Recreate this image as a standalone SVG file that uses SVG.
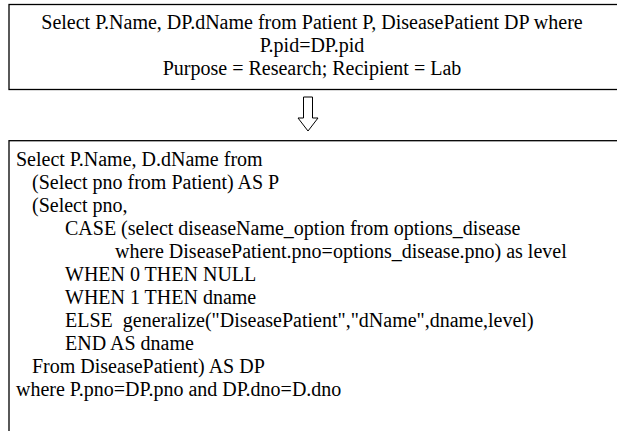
<svg xmlns="http://www.w3.org/2000/svg" width="617" height="431" viewBox="0 0 617 431" font-family="Liberation Serif, serif">
  <style>
    svg g text.sql { font-family: 'Liberation Serif', serif !important; font-size: 20px; fill: #000000; }
    .box { fill: #ffffff; stroke: #000000; stroke-width: 1.3; }
    .arrow { fill: #ffffff; stroke: #000000; stroke-width: 1; }
  </style>
  <rect width="617" height="431" fill="#ffffff"/>

  <!-- original query with purpose and recipient -->
  <g id="query">
    <rect class="box" x="9" y="4.5" width="628" height="85"/>
    <text class="sql" x="312" y="28.5" text-anchor="middle" style="font-family:'Liberation Serif',serif !important">Select P.Name, DP.dName from Patient P, DiseasePatient DP where</text>
    <text class="sql" x="312" y="51.5" text-anchor="middle" style="font-family:'Liberation Serif',serif !important">P.pid=DP.pid</text>
    <text class="sql" x="312" y="74.5" text-anchor="middle" style="font-family:'Liberation Serif',serif !important">Purpose = Research; Recipient = Lab</text>
  </g>

  <!-- rewrite step: hollow down arrow -->
  <g id="connectors">
    <path class="arrow" d="M303.5,97 H312.5 V118 H318 L308,131 L298,118 H303.5 Z"/>
  </g>

  <!-- rewritten query -->
  <g id="rewritten">
    <rect class="box" x="9" y="140.7" width="628" height="300"/>
    <text class="sql" x="16" y="166" style="font-family:'Liberation Serif',serif !important">Select P.Name, D.dName from</text>
    <text class="sql" x="32" y="189" style="font-family:'Liberation Serif',serif !important">(Select pno from Patient) AS P</text>
    <text class="sql" x="32" y="212" style="font-family:'Liberation Serif',serif !important">(Select pno,</text>
    <text class="sql" x="65" y="235" style="font-family:'Liberation Serif',serif !important">CASE (select diseaseName_option from options_disease</text>
    <text class="sql" x="115" y="258" style="font-family:'Liberation Serif',serif !important">where DiseasePatient.pno=options_disease.pno) as level</text>
    <text class="sql" x="65" y="281" style="font-family:'Liberation Serif',serif !important">WHEN 0 THEN NULL</text>
    <text class="sql" x="65" y="304" style="font-family:'Liberation Serif',serif !important">WHEN 1 THEN dname</text>
    <text class="sql" x="65" y="327" style="font-family:'Liberation Serif',serif !important;white-space:pre">ELSE  generalize("DiseasePatient","dName",dname,level)</text>
    <text class="sql" x="65" y="350" style="font-family:'Liberation Serif',serif !important">END AS dname</text>
    <text class="sql" x="32" y="373" style="font-family:'Liberation Serif',serif !important">From DiseasePatient) AS DP</text>
    <text class="sql" x="16" y="396" style="font-family:'Liberation Serif',serif !important">where P.pno=DP.pno and DP.dno=D.dno</text>
  </g>
</svg>
